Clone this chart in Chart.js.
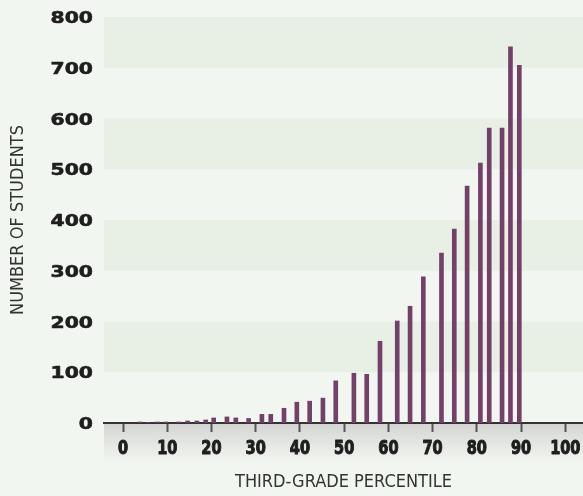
<!DOCTYPE html>
<html>
<head>
<meta charset="utf-8">
<script src="https://cdn.jsdelivr.net/npm/chart.js@4"></script>
<style>
  html, body { margin: 0; padding: 0; background: #f2f6f0; }
  #wrap { width: 583px; height: 496px; }
</style>
</head>
<body>
<div id="wrap"><canvas id="myChart" width="583" height="496"></canvas></div>
<script>
// third-grade percentile of each bar and number of students
var percentiles = [3.8, 5.7, 7.8, 9.7, 12.6, 14.6, 16.7, 18.7, 20.5, 23.5, 25.5, 28.4, 31.4, 33.4, 36.4, 39.3, 42.2, 45.2, 48.1, 52.2, 55.1, 58.1, 62.0, 64.9, 67.9, 72.0, 74.9, 77.8, 80.8, 82.8, 85.7, 87.6, 89.6];
var students = [2, 1, 2, 2, 2, 4, 4, 6, 10, 12, 10, 9, 17, 17, 29, 41, 43, 49, 83, 98, 96, 161, 201, 230, 288, 335, 382, 467, 512, 581, 581, 741, 705];
var xTicks = [0, 10, 20, 30, 40, 50, 60, 70, 80, 90, 100];
var yTicks = [0, 100, 200, 300, 400, 500, 600, 700, 800];
var bandRanges = [[100, 200], [300, 400], [500, 600], [700, 800]];

var points = [];
for (var i = 0; i < percentiles.length; i++) {
  points.push({x: percentiles[i], y: students[i]});
}

// background, alternate bands and the grey strip under the axis
var backdrop = {
  id: 'backdrop',
  beforeDraw: function(chart) {
    var ctx = chart.ctx;
    var a = chart.chartArea;
    var y = chart.scales.y;
    ctx.save();
    ctx.fillStyle = '#f2f6f0';
    ctx.fillRect(0, 0, chart.width, chart.height);
    ctx.fillStyle = '#e8efe4';
    bandRanges.forEach(function(b) {
      var top = y.getPixelForValue(b[1]);
      var bot = y.getPixelForValue(b[0]);
      ctx.fillRect(a.left, top, a.right - a.left, bot - top);
    });
    var g = ctx.createLinearGradient(0, a.bottom, 0, a.bottom + 40);
    g.addColorStop(0, '#d4d5d3');
    g.addColorStop(1, '#f2f6f0');
    ctx.fillStyle = g;
    ctx.fillRect(a.left, a.bottom, a.right - a.left, 40);
    ctx.restore();
  },
  // tick numbers: wide heavy on y, condensed heavy on x
  afterDraw: function(chart) {
    var ctx = chart.ctx;
    var x = chart.scales.x;
    var y = chart.scales.y;
    ctx.save();
    ctx.fillStyle = '#1e1e1e';
    ctx.strokeStyle = '#1e1e1e';
    ctx.lineJoin = 'round';
    ctx.textBaseline = 'alphabetic';
    ctx.font = 'bold 16px "DejaVu Sans"';
    ctx.textAlign = 'right';
    yTicks.forEach(function(v) {
      ctx.save();
      ctx.translate(93, y.getPixelForValue(v) + 6);
      ctx.scale(1.27, 1);
      ctx.lineWidth = 0.6;
      ctx.fillText(String(v), 0, 0);
      ctx.strokeText(String(v), 0, 0);
      ctx.restore();
    });
    ctx.font = 'bold 19px "DejaVu Sans Condensed"';
    ctx.textAlign = 'center';
    xTicks.forEach(function(v) {
      ctx.save();
      ctx.translate(x.getPixelForValue(v), 454);
      ctx.scale(0.85, 1);
      ctx.lineWidth = 1;
      ctx.fillText(String(v), 0, 0);
      ctx.strokeText(String(v), 0, 0);
      ctx.restore();
    });
    ctx.restore();
  }
};

var ctx = document.getElementById('myChart').getContext('2d');
var myChart = new Chart(ctx, {
  type: 'bar',
  data: {
    datasets: [{
      data: points,
      backgroundColor: '#74406a',
      barThickness: 4
    }]
  },
  options: {
    responsive: false,
    animation: false,
    layout: { padding: { top: 17, right: 0, bottom: 0, left: 0 } },
    plugins: { legend: { display: false }, tooltip: { enabled: false } },
    scales: {
      x: {
        type: 'linear',
        min: -4.3,
        max: 104,
        offset: false,
        afterFit: function(s) { s.height = 73; },
        afterBuildTicks: function(s) { s.ticks = xTicks.map(function(v) { return {value: v}; }); },
        grid: { offset: false, drawOnChartArea: false, drawTicks: true, tickLength: 9, tickWidth: 2, color: '#555555' },
        border: { display: true, color: '#333333', width: 2 },
        ticks: { display: false },
        title: {
          display: true,
          text: 'THIRD-GRADE PERCENTILE',
          color: '#333333',
          padding: { top: 0, bottom: 3 },
          font: { family: 'DejaVu Sans Condensed', size: 18, weight: 'normal' }
        }
      },
      y: {
        min: 0,
        max: 800,
        afterFit: function(s) { s.width = 104; },
        afterBuildTicks: function(s) { s.ticks = yTicks.map(function(v) { return {value: v}; }); },
        grid: { display: false },
        border: { display: false },
        ticks: { display: false },
        title: {
          display: true,
          text: 'NUMBER OF STUDENTS',
          color: '#333333',
          padding: { top: 8, bottom: 0 },
          font: { family: 'DejaVu Sans Condensed', size: 18, weight: 'normal' }
        }
      }
    }
  },
  plugins: [backdrop]
});
</script>
</body>
</html>
